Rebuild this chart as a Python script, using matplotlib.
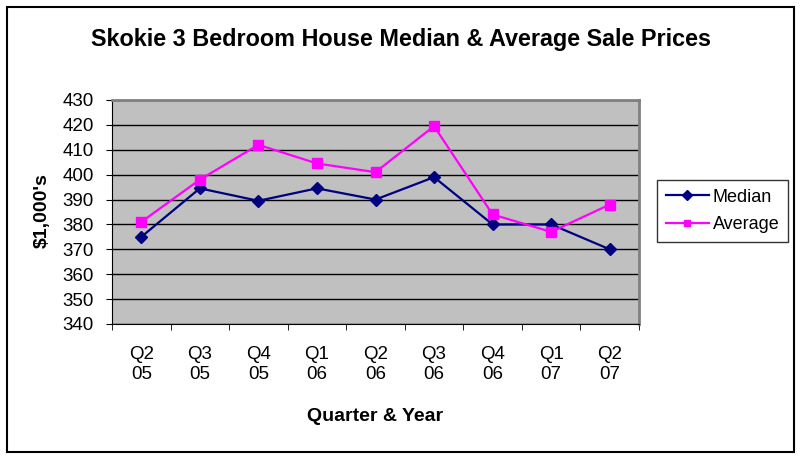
import numpy as np
import matplotlib
matplotlib.use("Agg")
import matplotlib.pyplot as plt
from matplotlib.patches import Rectangle

plt.rcParams['font.family'] = ['Liberation Sans', 'DejaVu Sans']

quarters = ["Q2\n05", "Q3\n05", "Q4\n05", "Q1\n06", "Q2\n06", "Q3\n06", "Q4\n06", "Q1\n07", "Q2\n07"]
median = [375, 394.5, 389.5, 394.5, 390, 399, 380, 380, 370]
average = [381, 398, 412, 404.5, 401, 419.5, 384, 377, 388]
y_ticks = list(range(340, 431, 10))

W, H = 802, 459
fig = plt.figure(figsize=(W / 100, H / 100), dpi=100)
# outer chart frame
fig.patches.append(Rectangle((7 / W, 1 - 452 / H), 787 / W, 445 / H, transform=fig.transFigure,
                             fill=False, edgecolor='black', linewidth=1.5))
ax = fig.add_axes([112 / W, 1 - 324 / H, 527 / W, 224 / H])
ax.set_facecolor('#C0C0C0')

x = np.arange(len(quarters))
ax.plot(x, median, color='#000080', marker='D', markersize=6.5, linewidth=1.6, label='Median', zorder=3)
ax.plot(x, average, color='#FF00FF', marker='s', markersize=6.5, linewidth=1.6, label='Average', zorder=3)

ax.set_xlim(-0.5, len(quarters) - 0.5)
ax.set_ylim(340, 430)
ax.set_yticks(y_ticks)
ax.yaxis.grid(True, color='black', linewidth=1)
ax.set_axisbelow(True)

ax.set_xticks(x)
ax.set_xticklabels(quarters, fontsize=13.5, linespacing=1.25)
ax.set_xticks(np.arange(-0.5, len(quarters), 1), minor=True)
ax.tick_params(axis='x', which='major', length=0, pad=16)
ax.tick_params(axis='x', which='minor', length=4, direction='out', color='black')
ax.tick_params(axis='y', labelsize=13.5, length=4, pad=9, direction='out')

for side in ['top', 'right']:
    ax.spines[side].set_color('#808080')
    ax.spines[side].set_linewidth(2)
for side in ['left', 'bottom']:
    ax.spines[side].set_color('black')

fig.text(375.5 / W, 1 - 421 / H, "Quarter & Year", ha='center', va='baseline',
         fontsize=14, fontweight='bold')
fig.text(42 / W, 1 - 211 / H, "$1,000's", ha='center', va='center', rotation=90,
         fontsize=14, fontweight='bold')
fig.text(401 / W, 1 - 46 / H, "Skokie 3 Bedroom House Median & Average Sale Prices",
         ha='center', va='baseline', fontsize=16.8, fontweight='bold')

leg = fig.legend(loc='center', bbox_to_anchor=(722.5 / W, 1 - 211 / H), fontsize=13,
                 frameon=True, fancybox=False, edgecolor='black', handlelength=2.4,
                 borderpad=0.5, labelspacing=0.6, handletextpad=0.2, markerscale=0.75,
                 borderaxespad=0)
leg.get_frame().set_linewidth(1)

fig.savefig("out.png", dpi=100)
